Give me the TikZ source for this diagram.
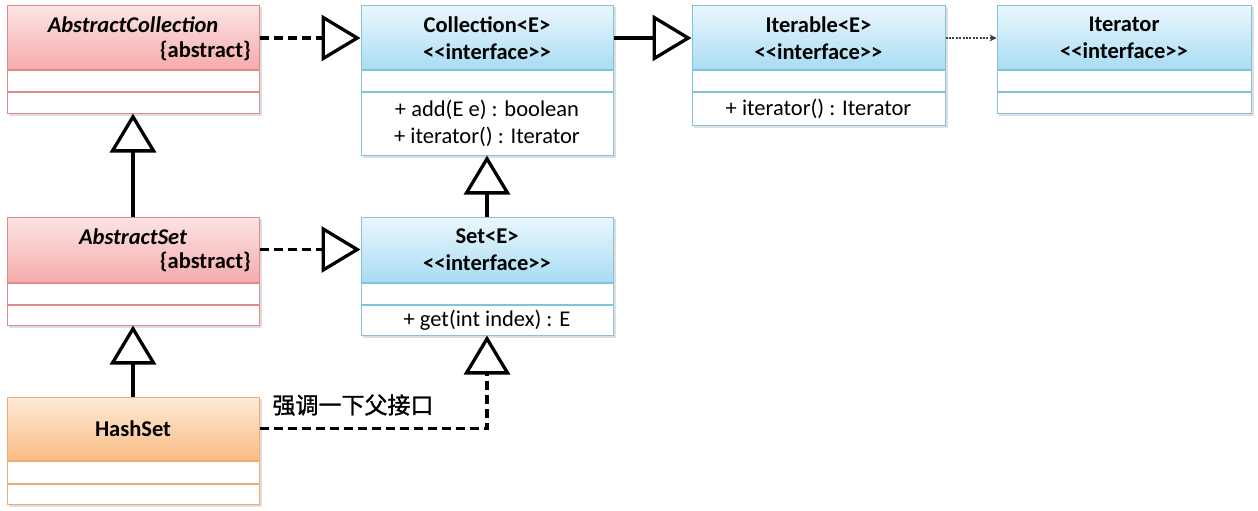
\documentclass[tikz,border=0pt]{standalone}
\usepackage{fontspec}
\setmainfont{Carlito}[Ligatures=TeXOff]
\newfontfamily\cjk{Noto Sans CJK SC}[FakeBold=1.2]
\usetikzlibrary{arrows.meta,fit,backgrounds}

\definecolor{pinkT}{HTML}{FCE4E4}
\definecolor{pinkB}{HTML}{F5ABAB}
\definecolor{pinkD}{HTML}{E08A8A}
\definecolor{blueT}{HTML}{EAF7FD}
\definecolor{blueB}{HTML}{A8DCF3}
\definecolor{blueD}{HTML}{84C2DC}
\definecolor{orT}{HTML}{FEEAD8}
\definecolor{orB}{HTML}{F9BC84}
\definecolor{orD}{HTML}{F2AB6E}
\newcommand\bodyfont{\fontsize{22.5}{27}\selectfont}

\tikzset{
  hdr/.style={draw, line width=1pt, inner sep=0pt, minimum width=252pt, align=center, font={\bodyfont\bfseries}},
  row/.style={draw, fill=white, line width=1pt, inner sep=0pt, minimum width=252pt, align=center, anchor=north, font=\bodyfont},
  pinkhdr/.style={hdr, draw=pinkD, top color=pinkT, bottom color=pinkB},
  pinkrow/.style={row, draw=pinkD},
  bluehdr/.style={hdr, draw=blueD, top color=blueT, bottom color=blueB},
  bluerow/.style={row, draw=blueD},
  orhdr/.style={hdr, draw=orD, top color=orT, bottom color=orB},
  orrow/.style={row, draw=orD},
  txt/.style={inner sep=0pt, font={\bodyfont\bfseries}},
  hollow/.style={-{Triangle[length=39pt,width=46pt,fill=white]}, line width=3.3pt, black},
  dashline/.style={dash pattern=on 9pt off 5pt},
  dotarrow/.style={-{Stealth[length=7pt,width=7pt]}, line width=1.3pt, black!75, dash pattern=on 2pt off 1.4pt},
  shadowbox/.style={fill=black!13, inner sep=0pt, xshift=2pt, yshift=-2pt}
}

\begin{document}
\begin{tikzpicture}[x=1pt, y=-1pt]
\useasboundingbox (0,0) rectangle (1258,511);

% AbstractCollection
\node[pinkhdr, minimum height=64pt] (ac) at (133,38) {};
\node[txt] (acname) at (133,25) {\itshape AbstractCollection};
\node[txt, anchor=east] (acabs) at (251,51) {\{abstract\}};
\node[pinkrow, minimum height=20pt] (ac1) at (ac.south) {};
\node[pinkrow, minimum height=21pt] (ac2) at (ac1.south) {};

% Collection
\node[bluehdr, minimum height=64pt] (coll) at (487,38) {Collection<E>\\<<interface>>};
\node[bluerow, minimum height=20pt] (coll1) at (coll.south) {};
\node[bluerow, minimum height=63pt] (coll2) at (coll1.south) {+ add(E e) : boolean\\+ iterator() : Iterator};

% Iterable
\node[bluehdr, minimum width=253pt, minimum height=64pt] (iter) at (818.5,38) {Iterable<E>\\<<interface>>};
\node[bluerow, minimum width=253pt, minimum height=20pt] (iter1) at (iter.south) {};
\node[bluerow, minimum width=253pt, minimum height=33pt] (iter2) at (iter1.south) {+ iterator() : Iterator};

% Iterator
\node[bluehdr, minimum width=254pt, minimum height=64pt] (itor) at (1124,38) {Iterator\\<<interface>>};
\node[bluerow, minimum width=254pt, minimum height=20pt] (itor1) at (itor.south) {};
\node[bluerow, minimum width=254pt, minimum height=21pt] (itor2) at (itor1.south) {};

% AbstractSet
\node[pinkhdr, minimum height=65pt] (as) at (133,249.5) {};
\node[txt] (asname) at (133,237) {\itshape AbstractSet};
\node[txt, anchor=east] (asabs) at (251,262) {\{abstract\}};
\node[pinkrow, minimum height=21pt] (as1) at (as.south) {};
\node[pinkrow, minimum height=20pt] (as2) at (as1.south) {};

% Set
\node[bluehdr, minimum height=65pt] (set) at (487,249.5) {Set<E>\\<<interface>>};
\node[bluerow, minimum height=21pt] (set1) at (set.south) {};
\node[bluerow, minimum height=30pt] (set2) at (set1.south) {+ get(int index) : E};

% HashSet
\node[orhdr, minimum height=63pt] (hs) at (133,428.5) {HashSet};
\node[orrow, minimum height=22pt] (hs1) at (hs.south) {};
\node[orrow, minimum height=20pt] (hs2) at (hs1.south) {};

% shadows and background
\begin{scope}[on background layer]
\fill[white] (0,0) rectangle (1258,511);
\node[shadowbox, fit=(ac)(ac2)] (acs) {};
\node[shadowbox, fit=(coll)(coll2)] (colls) {};
\node[shadowbox, fit=(iter)(iter2)] (iters) {};
\node[shadowbox, fit=(itor)(itor2)] (itors) {};
\node[shadowbox, fit=(as)(as2)] (ass) {};
\node[shadowbox, fit=(set)(set2)] (sets) {};
\node[shadowbox, fit=(hs)(hs2)] (hss) {};
\end{scope}

% connectors
\draw[hollow, dashline] (ac.east) -- (coll.west);
\draw[hollow] (coll.east) -- (iter.west);
\draw[dotarrow] (iter.east) -- (itor.west);
\draw[hollow] (as.north) -- (ac2.south);
\draw[hollow, dashline] (as.east) -- (set.west);
\draw[hollow] (set.north) -- (coll2.south);
\draw[hollow] (hs.north) -- (as2.south);
\draw[hollow, dashline] (hs.east) -| (set2.south);

\node[inner sep=0pt, font={\cjk\fontsize{23}{27}\selectfont}] (lbl) at (353,405) {强调一下父接口};
\end{tikzpicture}
\end{document}
